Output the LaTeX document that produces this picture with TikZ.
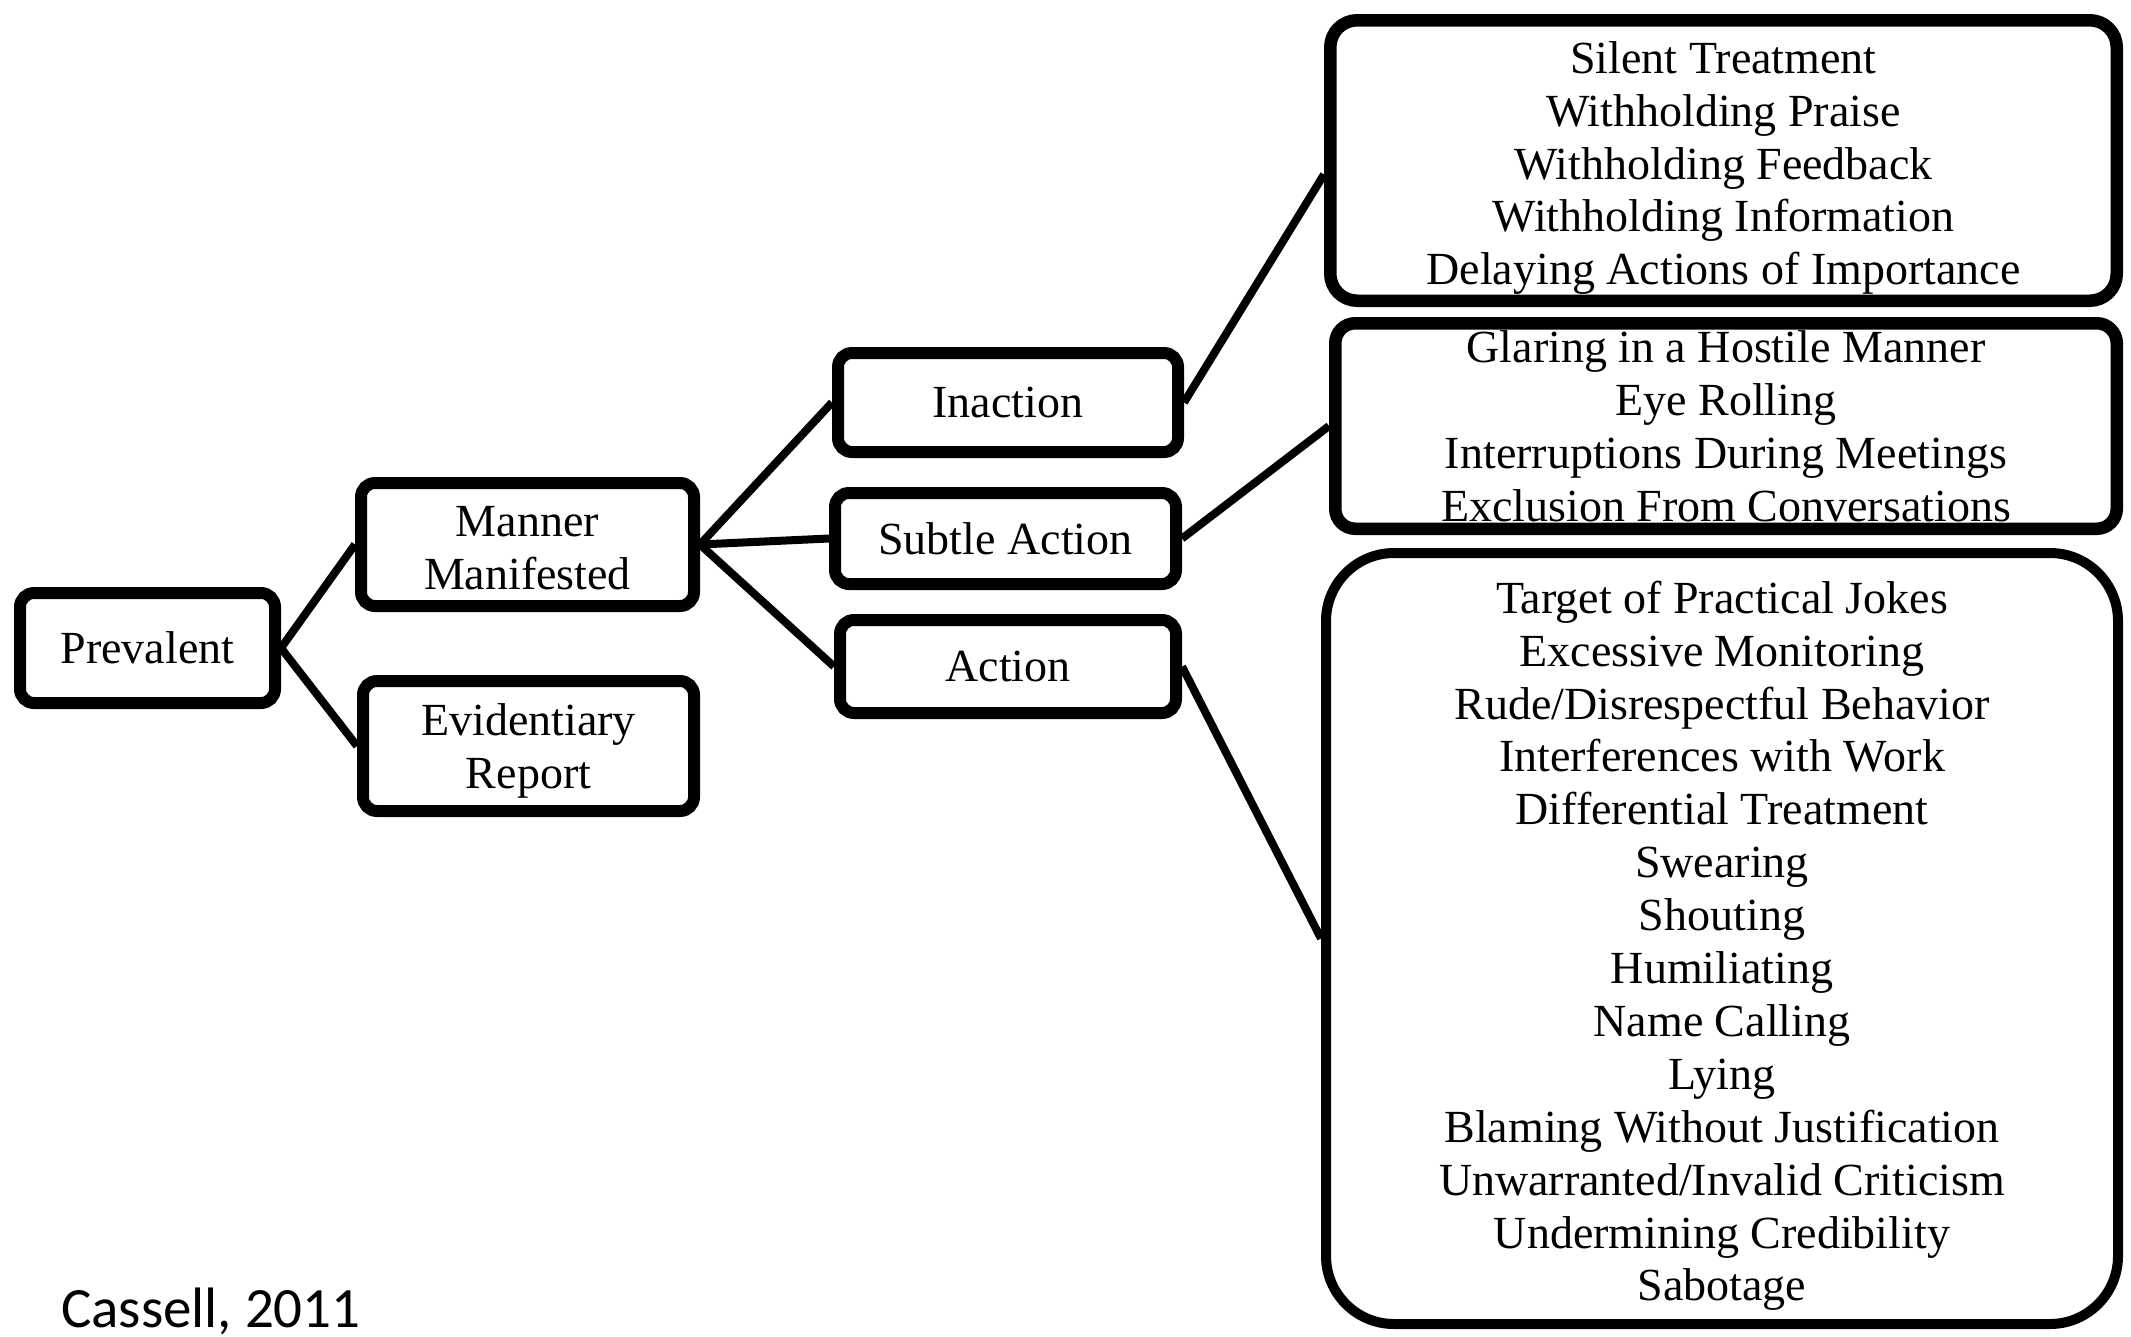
\documentclass[tikz,border=0pt]{standalone}
\usepackage{fontspec}
\setmainfont{Liberation Serif}
\newfontfamily\capfont{Carlito}
\newcommand\toppad[1]{\rule{0pt}{#1}}
\begin{document}
\begin{tikzpicture}[x=1pt,y=-1pt,
  every node/.style={font=\fontsize{46}{52.9}\selectfont, align=center, inner sep=0pt},
  sbox/.style={draw, line width=12pt, rounded corners=14pt},
  lbox/.style={draw, line width=12.5pt},
  conn/.style={line width=8pt}]
\useasboundingbox (0,0) rectangle (2131,1336);
\node[sbox, minimum width=255pt, minimum height=110pt] (prev) at (147.5,648) {Prevalent};
\node[sbox, minimum width=333pt, minimum height=123pt] (mm) at (527.5,544.5) {\toppad{38pt}Manner\\Manifested};
\node[sbox, minimum width=331pt, minimum height=130pt] (ev) at (528.5,746) {\toppad{41pt}Evidentiary\\Report};
\node[sbox, minimum width=340pt, minimum height=99pt] (in) at (1008,402.5) {Inaction};
\node[sbox, minimum width=341pt, minimum height=91pt] (sa) at (1005.5,538.5) {Subtle Action};
\node[sbox, minimum width=336pt, minimum height=93pt] (ac) at (1008,666.5) {Action};
\node[lbox, rounded corners=27pt, minimum width=786.5pt, minimum height=280.5pt] (b1) at (1723.5,160.5)
  {\toppad{47pt}Silent Treatment\\Withholding Praise\\Withholding Feedback\\Withholding Information\\Delaying Actions of Importance};
\node[lbox, rounded corners=20pt, minimum width=781.5pt, minimum height=205.5pt] (b2) at (1726,426)
  {Glaring in a Hostile Manner\\Eye Rolling\\Interruptions During Meetings\\Exclusion From Conversations};
\node[draw, line width=10pt, rounded corners=68pt, minimum width=792pt, minimum height=771pt] (b3) at (1722,938.5)
  {\toppad{47pt}Target of Practical Jokes\\Excessive Monitoring\\Rude/Disrespectful Behavior\\Interferences with Work\\Differential Treatment\\Swearing\\Shouting\\Humiliating\\Name Calling\\Lying\\Blaming Without Justification\\Unwarranted/Invalid Criticism\\Undermining Credibility\\Sabotage};
\node[anchor=base west, font=\capfont\fontsize{57}{68}\selectfont] (cap) at (61,1327) {Cassell, 2011};
\draw[conn] (prev.east) -- (mm.west);
\draw[conn] (prev.east) -- (ev.west);
\draw[conn] (mm.east) -- (in.west);
\draw[conn] (mm.east) -- (sa.west);
\draw[conn] (mm.east) -- (ac.west);
\draw[conn] (in.east) -- (b1.182);
\draw[conn] (sa.east) -- (b2.west);
\draw[conn] (ac.east) -- (b3.west);
\end{tikzpicture}
\end{document}
